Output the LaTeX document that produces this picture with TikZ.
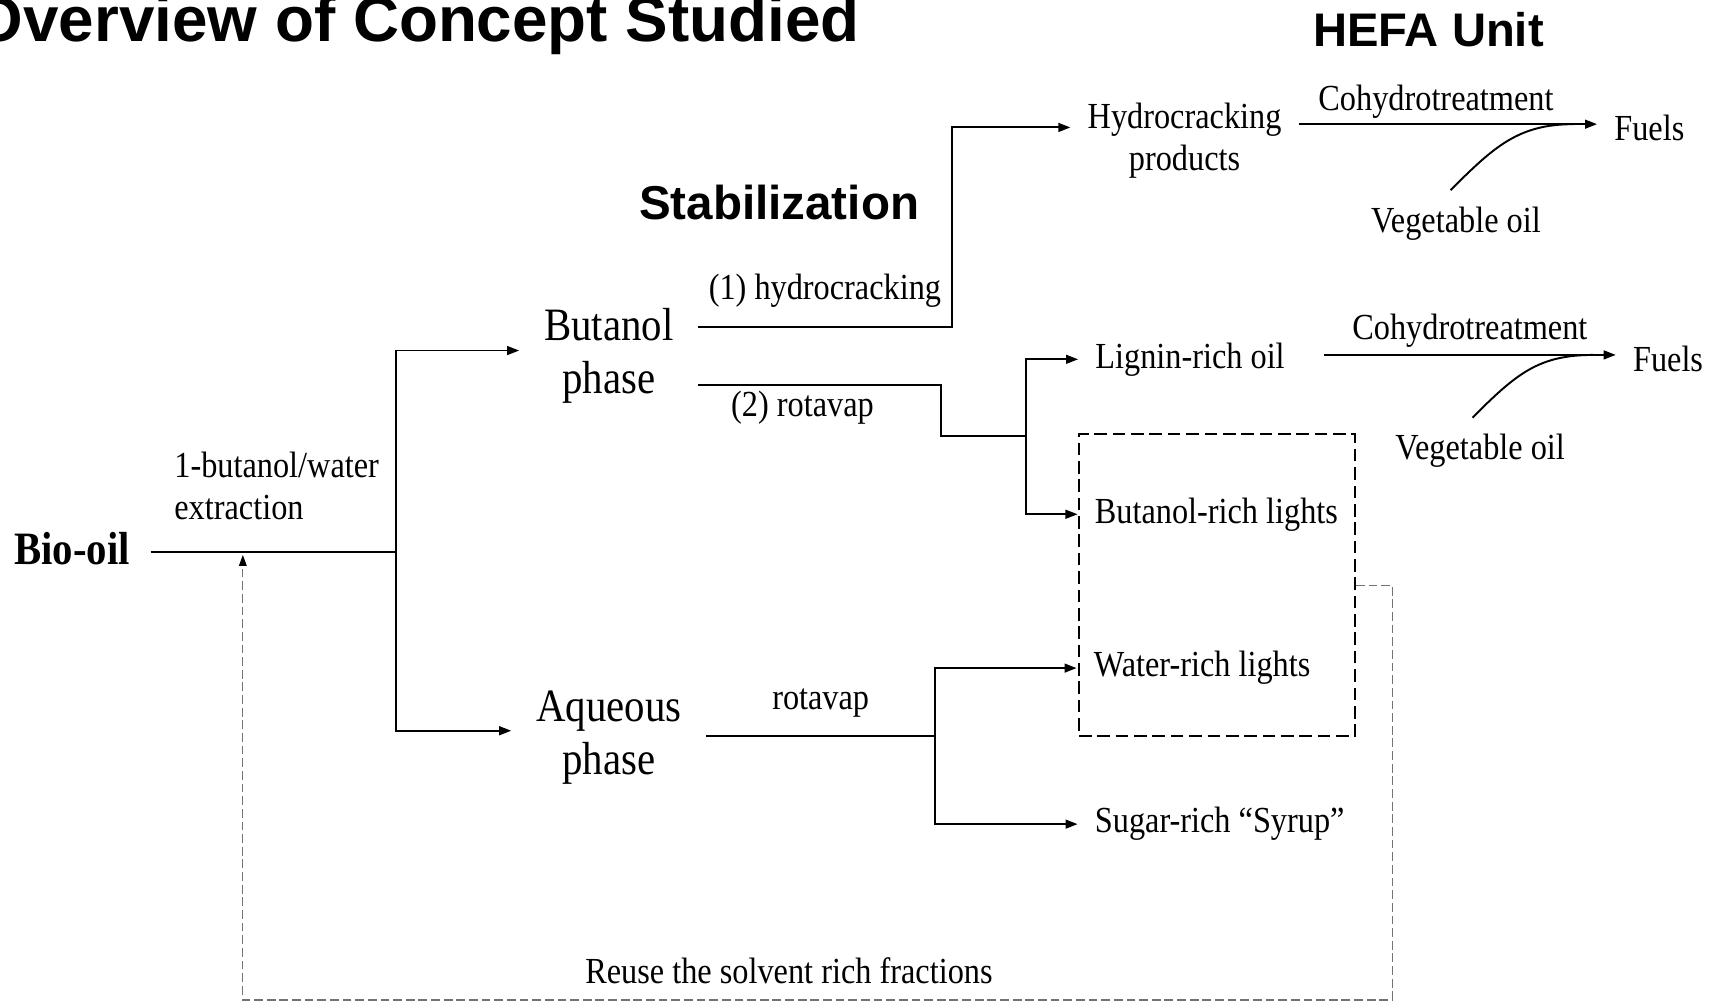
\documentclass[tikz,border=0pt]{standalone}
\usepackage{fontspec}
\setmainfont{Liberation Serif}[FakeStretch=0.88]
\newfontfamily\headfont{Liberation Sans}
\usetikzlibrary{arrows.meta}

\begin{document}
\begin{tikzpicture}[y=-.01cm, x=.01cm,
  txt/.style={font=\fontsize{9.5}{10.8}\selectfont, inner xsep=1.5mm, inner ysep=0pt, align=center},
  big/.style={font=\fontsize{12}{13.7}\selectfont, inner xsep=2.2mm, inner ysep=0pt, align=center},
  head/.style={font=\headfont\bfseries\fontsize{#1}{#1}\selectfont, inner sep=0pt},
  line/.style={line width=.5pt},
  flow/.style={line width=.5pt, -{Triangle[length=1.1mm,width=.8mm]}},
  dashbox/.style={draw, line width=.5pt, dash pattern=on 1.15mm off .52mm, inner sep=0pt},
  recycle/.style={draw=black!55, line width=.3pt, dash pattern=on .8mm off .35mm, -{Triangle[length=1mm,width=.7mm,color=black]}}]

\useasboundingbox (0,0) rectangle (1568,912);

\node[head=16.5, anchor=base east] (title) at (783,38) {Overview of Concept Studied};
\node[head=12.2, anchor=base] (hefa) at (1300,42) {HEFA Unit};
\node[head=12.3, anchor=base] (stab) at (709,200) {Stabilization};

\node[big, anchor=east, inner xsep=1.8mm] (bio) at (137,499) {\textbf{Bio-oil}};
\node[txt, align=left, anchor=west, inner xsep=0pt] (extr) at (158,442) {1-butanol/water\\extraction};
\node[big] (buta) at (554,324) {Butanol\\phase};
\node[big] (aq) at (554,671) {Aqueous\\phase};
\node[txt] (hyd) at (1078,128) {Hydrocracking\\products};
\node[txt] (fuel1) at (1501,116) {Fuels};
\node[txt] (veg1) at (1325,204) {Vegetable oil};
\node[txt] (lig) at (1083,327) {Lignin-rich oil};
\node[txt] (fuel2) at (1518,327) {Fuels};
\node[txt] (veg2) at (1347,410) {Vegetable oil};
\node[dashbox, minimum width=2.51cm, minimum height=2.75cm] (lights) at (1107.5,532.5) {};
\node[txt] (blight) at (1107,468) {Butanol-rich lights};
\node[txt] (wlight) at (1094,608) {Water-rich lights};
\node[txt] (sugar) at (1110,750) {Sugar-rich “Syrup”};
\node[txt] (reuse) at (718,883) {Reuse the solvent rich fractions};

\coordinate (split) at (360,502);
\coordinate (hturn) at (866,298);
\coordinate (rturn) at (856,350);
\coordinate (hsplit) at (934,397);
\coordinate (asplit) at (851,670);
\coordinate (m1) at (1432,113);
\coordinate (m2) at (1450,323);
\coordinate (low) at (1267,910);
\coordinate (ret) at (221,505);

\draw[line] (bio.east |- split) -- (split);
\draw[flow] (split) |- ([yshift=.5mm]buta.west);
\draw[flow] (split) |- ([yshift=.6mm]aq.west);

\draw[flow] (buta.east |- hturn) -- (hturn) node[txt, midway, above=1.7mm] {(1) hydrocracking} |- ([yshift=1.2mm]hyd.west);
\draw[line] (buta.east |- rturn) -- (rturn) node[txt, pos=.43, below=.5mm] {(2) rotavap} |- (hsplit);
\draw[flow] (hsplit) |- (lig.west);
\draw[flow] (hsplit) |- (blight.west);

\draw[flow] (hyd.east |- m1) -- (m1 -| fuel1.west) node[txt, pos=.46, above=.4mm] {Cohydrotreatment};
\draw[line] ([shift={(-5,-15)}]veg1.north) .. controls +(40,-40) and +(-50,0) .. (m1);
\draw[flow] ([xshift=2mm]lig.east |- m2) -- (m2 -| fuel2.west) node[txt, midway, above=.6mm] {Cohydrotreatment};
\draw[line] ([shift={(-7,-14)}]veg2.north) .. controls +(40,-40) and +(-50,0) .. (m2);

\draw[line] (aq.east |- asplit) -- (asplit) node[txt, midway, above=1.6mm] {rotavap};
\draw[flow] (asplit) |- (wlight.west);
\draw[flow] (asplit) |- (sugar.west);

\draw[recycle] (lights.east) -| (low) -| (ret);

\end{tikzpicture}
\end{document}
